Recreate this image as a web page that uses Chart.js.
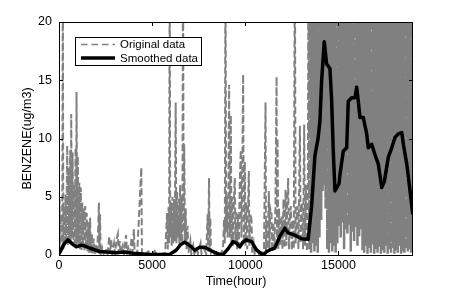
<!DOCTYPE html>
<html>
<head>
<meta charset="utf-8">
<script src="https://cdn.jsdelivr.net/npm/chart.js@4/dist/chart.umd.min.js"></script>
<style>
  body { margin: 0; background: #fff; }
  #wrap { width: 457px; height: 291px; }
</style>
</head>
<body>
<div id="wrap"><canvas id="benzeneChart" width="457" height="291"></canvas></div>
<script>
// axis ticks
const xTicks = [0, 5000, 10000, 15000];
const yTicks = [0, 5, 10, 15, 20];

// original hourly data (spikes and envelope)
const origHours = [
  0, 30, 60, 100, 140, 180, 205, 230, 270, 310, 350, 390, 441, 470, 510, 550, 600, 630, 656, 690,
  730, 770, 810, 850, 890, 920, 941, 975, 1010, 1050, 1090, 1130, 1170, 1210, 1250, 1290, 1330, 1370, 1410, 1450,
  1490, 1530, 1580, 1620, 1670, 1710, 1760, 1800, 1860, 1920, 1980, 2040, 2110, 2140, 2170, 2200, 2240, 2320, 2400, 2520,
  2600, 2700, 2740, 2800, 2850, 2950, 3000, 3100, 3160, 3200, 3260, 3300, 3420, 3480, 3600, 3650, 3720, 3800, 3900, 3950,
  4020, 4060, 4200, 4419, 4450, 4600, 4800, 4850, 5000, 5134, 5250, 5500, 5700, 5800, 5840, 5880, 5910, 5940, 5970, 6010,
  6050, 6090, 6130, 6170, 6210, 6263, 6300, 6340, 6380, 6420, 6460, 6500, 6540, 6580, 6620, 6656, 6690, 6720, 6760, 6800,
  6840, 6900, 6950, 7050, 7100, 7200, 7260, 7400, 7450, 7600, 7650, 7800, 7900, 7980, 8010, 8053, 8080, 8120, 8160, 8250,
  8350, 8500, 8650, 8800, 8860, 8900, 8934, 8970, 9010, 9050, 9090, 9130, 9170, 9220, 9260, 9300, 9340, 9380, 9435, 9470,
  9520, 9560, 9613, 9650, 9700, 9757, 9790, 9840, 9883, 9920, 9973, 10010, 10060, 10100, 10188, 10220, 10280, 10333, 10370, 10450,
  10500, 10650, 10750, 10900, 11000, 11085, 11110, 11150, 11193, 11263, 11300, 11340, 11408, 11440, 11500, 11560, 11620, 11677, 11700, 11730,
  11770, 11810, 11860, 11945, 11990, 12050, 12100, 12160, 12200, 12250, 12300, 12340, 12400, 12446, 12490, 12560, 12600, 12660, 12700, 12760,
  12805, 12850, 12930, 12970, 13010, 13053, 13100, 13160, 13200, 13268, 13310, 13350,
  13400, 13440, 13490, 13530, 13580, 13620, 13670, 13710, 13760, 13800, 13850, 13890, 13940, 13980, 14030, 14070, 14110, 14150, 14190, 14230,
  14270, 14310, 14360, 14400, 14450, 14490, 14540, 14580, 14630, 14670, 14720, 14760, 14810, 14850, 14900, 14940, 14990, 15030, 15080, 15120,
  15170, 15210, 15260, 15300, 15350, 15390, 15440, 15480, 15530, 15570, 15620, 15660, 15710, 15750, 15800, 15840, 15890, 15930, 15980, 16020,
  16070, 16110, 16160, 16200, 16250, 16290, 16340, 16380, 16430, 16470, 16520, 16560, 16610, 16650, 16700, 16740, 16790, 16830, 16880, 16920,
  16970, 17010, 17060, 17100, 17150, 17190, 17240, 17280, 17330, 17370, 17420, 17460, 17510, 17550, 17600, 17640, 17690, 17730, 17780, 17820,
  17870, 17910, 17960, 18000, 18050, 18090, 18140, 18180, 18230, 18270, 18320, 18360, 18410, 18450, 18500, 18540, 18590, 18630, 18680, 18720,
  18770, 18810, 18860, 18900, 18950, 18985
];
const origValues = [
  0.3, 4.8, 0.4, 3.5, 0.6, 5.0, 26, 0.5, 4.2, 0.8, 5.2, 1.0, 9.4, 0.8, 7.5, 1.0, 9.0, 1.2, 12.1, 1.5,
  8.8, 0.8, 6.0, 1.0, 9.2, 0.8, 14.0, 1.0, 8.5, 0.6, 6.2, 0.5, 5.8, 0.4, 4.5, 0.8, 4.0, 0.3, 4.2, 0.5,
  3.6, 0.3, 2.8, 0.2, 3.2, 0.2, 1.8, 0.1, 1.4, 0.1, 0.9, 0.1, 2.5, 4.5, 0.1, 3.5, 0.1, 0.6, 0.1, 0.4,
  0.1, 1.6, 0.1, 1.3, 0.1, 1.0, 0.1, 1.4, 1.8, 0.2, 1.2, 0.1, 0.8, 0.1, 1.7, 0.2, 0.6, 0.1, 1.5, 0.2,
  2.2, 0.1, 0.2, 7.5, 0.1, 0.1, 0.3, 0, 0.1, 0.35, 0, 0.1, 0.2, 3.6, 0.5, 4.1, 1.0, 26, 1.5, 4.5,
  0.8, 5.0, 1.0, 4.8, 1.2, 13.1, 1.0, 5.5, 1.5, 4.8, 0.8, 6.0, 1.2, 5.0, 1.0, 26, 2.0, 9.5, 1.0, 4.0,
  0.5, 2.5, 0.2, 1.2, 0.1, 0.8, 0.1, 0.6, 0.1, 1.0, 0.1, 0.5, 0.1, 3.5, 0.3, 6.6, 0.5, 3.2, 0.2, 0.5,
  0, 0.2, 0, 0.5, 3.0, 1.0, 26, 2.0, 5.2, 1.5, 4.8, 14.6, 1.5, 12.0, 1.0, 5.0, 0.8, 4.5, 6.6, 1.0,
  3.8, 0.5, 3.5, 0.8, 6.0, 9.0, 1.5, 7.5, 15.5, 1.0, 8.0, 0.8, 4.5, 0.5, 7.2, 0.8, 3.5, 3.0, 0.2, 1.0,
  0.1, 0.4, 0, 0.3, 0, 13.1, 0.2, 3.0, 0.5, 5.5, 0.5, 4.0, 3.5, 0.3, 2.8, 0.5, 4.5, 15.3, 1.0, 10.0,
  0.5, 4.0, 0.8, 3.3, 0.5, 4.8, 0.6, 5.6, 0.8, 4.0, 6.6, 0.5, 3.5, 4.2, 0.4, 3.0, 0.5, 26, 1.0, 3.5,
  4.2, 0.5, 11.1, 1.0, 4.5, 4.0, 0.5, 11.2, 0.8, 6.0, 0.3, 3.5,
  27, 0.5, 23, 0.2, 31, 1.0, 25, 0.3, 29, 0.8, 22, 0.2, 27, 1.5, 30, 3.0, 24, 5.5, 28, 6.0,
  23, 4.0, 31, 0.5, 26, 0.2, 22, 1.0, 29, 0.3, 25, 0.8, 30, 0.2, 23, 1.0, 27, 2.5, 32, 1.5,
  24, 2.8, 28, 0.5, 22, 2.2, 30, 1.8, 26, 2.6, 23, 0.3, 31, 2.0, 25, 1.2, 28, 2.4, 22, 0.8,
  29, 1.6, 24, 2.2, 31, 0.4, 26, 0.2, 23, 0.8, 28, 0.1, 30, 0.6, 22, 0.2, 27, 0.9, 25, 0.1,
  32, 0.5, 23, 0.2, 28, 0.7, 24, 0.1, 30, 0.4, 26, 0.2, 22, 0.8, 29, 0.1, 25, 0.5, 31, 0.2,
  23, 0.6, 27, 0.1, 24, 0.4, 30, 0.2, 22, 0.8, 28, 0.1, 26, 0.3, 31, 0.2, 23, 0.6, 29, 0.3,
  25, 0.5, 22, 0.2, 28, 1.0
];
// from this hour on the record is so dense that the dashes merge into a solid band
const denseFrom = 13400;

// smoothed curve
const smoothHours = [
  0, 134, 296, 473, 672, 925, 1193, 1425, 1640, 2177, 3075, 3521, 3967, 4865, 5940, 6300, 6532, 6747, 7107, 7285,
  7554, 7822, 8268, 8629, 8806, 9059, 9343, 9543, 9704, 9865, 10064, 10333, 10601, 10956, 11155, 11317, 11585, 11854, 12123, 12300,
  12660, 13021, 13376, 13558, 13735, 13913, 14005, 14096, 14236, 14365, 14542, 14633, 14719, 14811, 15026, 15080, 15257, 15440, 15526, 15709,
  15886, 15977, 16063, 16155, 16332, 16515, 16601, 16784, 16961, 17139, 17321, 17461, 17676, 17859, 18037, 18214, 18397, 18483, 18666, 18843,
  18988
];
const smoothValues = [
  0.1, 0.5, 1.0, 1.3, 1.0, 0.7, 0.85, 0.75, 0.6, 0.3, 0.2, 0.25, 0.15, 0.05, 0.05, 0.43, 0.9, 1.1, 0.7, 0.4,
  0.66, 0.66, 0.28, 0.05, 0.05, 0.5, 1.15, 1.0, 0.7, 1.1, 1.3, 1.15, 0.43, 0.0, 0.3, 0.43, 0.6, 1.6, 2.3, 1.9,
  1.7, 1.4, 1.35, 4.2, 8.5, 10.1, 11.5, 15.0, 18.3, 16.4, 16.0, 13.3, 9.0, 5.5, 6.1, 6.9, 8.9, 9.2, 13.2, 13.5,
  13.5, 14.4, 13.2, 11.8, 11.8, 10.4, 9.2, 9.5, 8.6, 7.8, 5.8, 6.3, 8.4, 9.2, 10.1, 10.4, 10.5, 9.5, 7.8, 5.5,
  3.5
];

const font = 'Liberation Sans, Arial, Helvetica, sans-serif';

// box around the plot plus inward ticks on all four sides
const frameTicks = {
  id: 'frameTicks',
  afterDatasetsDraw(chart) {
    const {ctx, chartArea: a, scales: {x, y}} = chart;
    ctx.save();
    ctx.strokeStyle = '#000';
    ctx.lineWidth = 1;
    ctx.beginPath();
    ctx.rect(a.left + 0.5, a.top + 0.5, a.right - a.left - 1, a.bottom - a.top);
    xTicks.forEach(v => {
      const px = Math.round(x.getPixelForValue(v)) + 0.5;
      ctx.moveTo(px, a.bottom); ctx.lineTo(px, a.bottom - 4);
      ctx.moveTo(px, a.top); ctx.lineTo(px, a.top + 4);
    });
    yTicks.forEach(v => {
      const py = Math.round(y.getPixelForValue(v)) + 0.5;
      ctx.moveTo(a.left, py); ctx.lineTo(a.left + 4, py);
      ctx.moveTo(a.right, py); ctx.lineTo(a.right - 4, py);
    });
    ctx.stroke();
    ctx.restore();
  }
};

// matlab-style boxed legend in the upper left of the axes
const boxLegend = {
  id: 'boxLegend',
  afterDraw(chart) {
    const {ctx} = chart;
    const items = [chart.data.datasets[1], chart.data.datasets[0]];
    ctx.save();
    ctx.fillStyle = '#fff';
    ctx.fillRect(75.5, 37.5, 126, 28);
    ctx.strokeStyle = '#000';
    ctx.lineWidth = 1;
    ctx.strokeRect(75.5, 37.5, 126, 28);
    items.forEach((ds, i) => {
      const yy = 44.5 + i * 13.5;
      ctx.beginPath();
      ctx.strokeStyle = ds.borderColor;
      ctx.lineWidth = i === 0 ? 1.5 : ds.borderWidth;
      ctx.setLineDash(ds.borderDash ? [6.5, 4] : []);
      ctx.moveTo(81, yy);
      ctx.lineTo(115, yy);
      ctx.stroke();
      ctx.setLineDash([]);
      ctx.fillStyle = '#000';
      ctx.font = '11.5px ' + font;
      ctx.textBaseline = 'middle';
      ctx.fillText(ds.label, 120, yy + 0.5);
    });
    ctx.restore();
  }
};

const ctx = document.getElementById('benzeneChart').getContext('2d');
new Chart(ctx, {
  type: 'line',
  data: {
    datasets: [{
      label: 'Smoothed data',
      data: smoothHours.map((h, i) => ({x: h, y: smoothValues[i]})),
      borderColor: '#000',
      borderWidth: 3.5,
      borderJoinStyle: 'round',
      pointRadius: 0,
      tension: 0
    }, {
      label: 'Original data',
      data: origHours.map((h, i) => ({x: h, y: origValues[i]})),
      borderColor: '#808080',
      borderWidth: 2,
      borderDash: [7, 3],
      pointRadius: 0,
      tension: 0,
      segment: {
        borderDash: c => c.p0.parsed.x >= denseFrom ? [18, 2] : undefined,
        borderWidth: c => c.p0.parsed.x >= denseFrom ? 2.5 : undefined
      }
    }]
  },
  options: {
    responsive: false,
    animation: false,
    devicePixelRatio: 1,
    layout: {padding: {top: 22, right: 44, left: 0, bottom: 0}},
    plugins: {legend: {display: false}, tooltip: {enabled: false}},
    scales: {
      x: {
        type: 'linear',
        min: 0,
        max: 19000,
        afterBuildTicks: s => { s.ticks = xTicks.map(v => ({value: v})); },
        afterFit: s => { s.height = 36; },
        grid: {display: false, drawTicks: false},
        border: {display: false},
        ticks: {padding: 3, color: '#000', font: {family: font, size: 12.5}, callback: v => String(v)},
        title: {display: true, text: 'Time(hour)', color: '#000', padding: {top: 0, bottom: 1.5}, font: {family: font, size: 12.5}}
      },
      y: {
        min: 0,
        max: 20,
        afterBuildTicks: s => { s.ticks = yTicks.map(v => ({value: v})); },
        afterFit: s => { s.width = 59; },
        grid: {display: false, drawTicks: false},
        border: {display: false},
        ticks: {padding: 7, color: '#000', font: {family: font, size: 12.5}, callback: v => String(v)},
        title: {display: true, text: 'BENZENE(ug/m3)', color: '#000', padding: {top: 20, bottom: 0}, font: {family: font, size: 12.5}}
      }
    }
  },
  plugins: [frameTicks, boxLegend]
});
</script>
</body>
</html>
